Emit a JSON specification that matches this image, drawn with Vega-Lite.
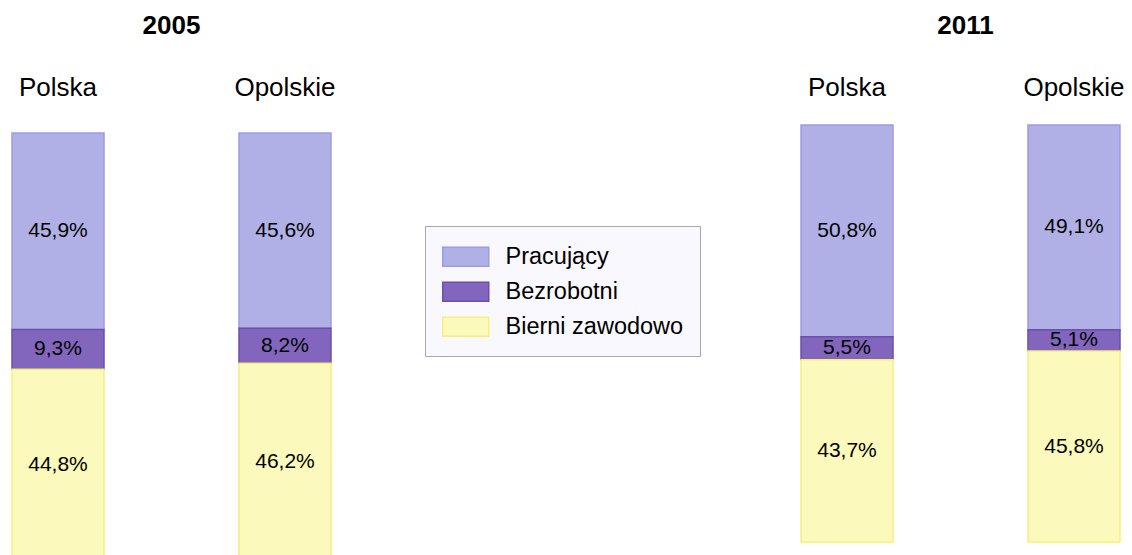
{
  "$schema": "https://vega.github.io/schema/vega-lite/v6.json",
  "padding": {"left": 0, "top": 13, "right": 0, "bottom": 0},
  "background": "white",
  "data": {
    "values": [
      {"year": 2005, "region": "Polska", "category": "Pracujący", "value": 0.459, "order": 3},
      {"year": 2005, "region": "Polska", "category": "Bezrobotni", "value": 0.093, "order": 2},
      {"year": 2005, "region": "Polska", "category": "Bierni zawodowo", "value": 0.448, "order": 1},
      {"year": 2005, "region": "Opolskie", "category": "Pracujący", "value": 0.456, "order": 3},
      {"year": 2005, "region": "Opolskie", "category": "Bezrobotni", "value": 0.082, "order": 2},
      {"year": 2005, "region": "Opolskie", "category": "Bierni zawodowo", "value": 0.462, "order": 1},
      {"year": 2011, "region": "Polska", "category": "Pracujący", "value": 0.508, "order": 3},
      {"year": 2011, "region": "Polska", "category": "Bezrobotni", "value": 0.055, "order": 2},
      {"year": 2011, "region": "Polska", "category": "Bierni zawodowo", "value": 0.437, "order": 1},
      {"year": 2011, "region": "Opolskie", "category": "Pracujący", "value": 0.491, "order": 3},
      {"year": 2011, "region": "Opolskie", "category": "Bezrobotni", "value": 0.051, "order": 2},
      {"year": 2011, "region": "Opolskie", "category": "Bierni zawodowo", "value": 0.458, "order": 1}
    ]
  },
  "spacing": 446,
  "hconcat": [
    {
      "title": {"text": "2005", "fontSize": 26, "fontWeight": "bold", "font": "Liberation Sans", "color": "#000000", "offset": 35},
      "width": 343,
      "height": 436,
      "transform": [{"filter": "datum.year == 2005"}],
      "encoding": {
        "x": {"field": "region", "type": "nominal", "sort": ["Polska", "Opolskie"],
              "scale": {"paddingInner": 0.5947, "paddingOuter": 0.0529},
              "axis": {"orient": "top", "title": null, "labelAngle": 0, "domain": false, "ticks": false, "tickSize": 0, "labelPadding": 25, "labelFontSize": 26, "labelFont": "Liberation Sans", "labelColor": "#000000"}}
      },
      "layer": [
        {
          "mark": {"type": "bar", "strokeWidth": 1.5},
          "encoding": {
            "y": {"field": "value", "type": "quantitative", "stack": "zero", "scale": {"domain": [0, 1.01869], "nice": false}, "axis": null},
            "order": {"field": "order", "type": "quantitative"},
            "fill": {"field": "category", "type": "nominal",
                     "scale": {"domain": ["Pracujący", "Bezrobotni", "Bierni zawodowo"], "range": ["#b0b0e6", "#8266bd", "#fbf9bb"]},
                     "legend": {"orient": "none", "legendX": 425, "legendY": 101, "title": null, "fillColor": "#f8f8fe", "strokeColor": "#a8a8a8", "padding": 16, "symbolType": "M-1.05,-0.684L3.79,-0.684L3.79,1.316L-1.05,1.316Z", "symbolSize": 361, "symbolStrokeWidth": 1.5, "labelFontSize": 23.5, "labelFont": "Liberation Sans", "labelColor": "#000000", "labelOffset": 41, "rowPadding": 7, "labelLimit": 400, "encode": {"labels": {"update": {"dy": {"value": 3}}}}}},
            "stroke": {"field": "category", "type": "nominal",
                     "scale": {"domain": ["Pracujący", "Bezrobotni", "Bierni zawodowo"], "range": ["#9c9ce4", "#6b4fae", "#f5ef7e"]},
                     "legend": {"orient": "none", "legendX": 425, "legendY": 101, "title": null, "fillColor": "#f8f8fe", "strokeColor": "#a8a8a8", "padding": 16, "symbolType": "M-1.05,-0.684L3.79,-0.684L3.79,1.316L-1.05,1.316Z", "symbolSize": 361, "symbolStrokeWidth": 1.5, "labelFontSize": 23.5, "labelFont": "Liberation Sans", "labelColor": "#000000", "labelOffset": 41, "rowPadding": 7, "labelLimit": 400, "encode": {"labels": {"update": {"dy": {"value": 3}}}}}}
          }
        },
        {
          "mark": {"type": "text", "fontSize": 21, "font": "Liberation Sans", "color": "#000000", "baseline": "middle"},
          "encoding": {
            "y": {"field": "value", "type": "quantitative", "stack": "zero", "bandPosition": 0.5},
            "order": {"field": "order", "type": "quantitative"},
            "text": {"field": "value", "type": "quantitative", "format": ".1%"}
          }
        }
      ]
    },
    {
      "title": {"text": "2011", "fontSize": 26, "fontWeight": "bold", "font": "Liberation Sans", "color": "#000000", "offset": 35, "dx": 5},
      "width": 343,
      "height": 417,
      "transform": [{"filter": "datum.year == 2011"}],
      "encoding": {
        "x": {"field": "region", "type": "nominal", "sort": ["Polska", "Opolskie"],
              "scale": {"paddingInner": 0.5947, "paddingOuter": 0.0529},
              "axis": {"orient": "top", "title": null, "labelAngle": 0, "domain": false, "ticks": false, "tickSize": 0, "labelPadding": 25, "labelFontSize": 26, "labelFont": "Liberation Sans", "labelColor": "#000000"}}
      },
      "layer": [
        {
          "mark": {"type": "bar", "strokeWidth": 1.5},
          "encoding": {
            "y": {"field": "value", "type": "quantitative", "stack": "zero", "scale": {"domain": [0, 1], "nice": false}, "axis": null},
            "order": {"field": "order", "type": "quantitative"},
            "fill": {"field": "category", "type": "nominal",
                     "scale": {"domain": ["Pracujący", "Bezrobotni", "Bierni zawodowo"], "range": ["#b0b0e6", "#8266bd", "#fbf9bb"]},
                     "legend": {"orient": "none", "legendX": 425, "legendY": 101, "title": null, "fillColor": "#f8f8fe", "strokeColor": "#a8a8a8", "padding": 16, "symbolType": "M-1.05,-0.684L3.79,-0.684L3.79,1.316L-1.05,1.316Z", "symbolSize": 361, "symbolStrokeWidth": 1.5, "labelFontSize": 23.5, "labelFont": "Liberation Sans", "labelColor": "#000000", "labelOffset": 41, "rowPadding": 7, "labelLimit": 400, "encode": {"labels": {"update": {"dy": {"value": 3}}}}}},
            "stroke": {"field": "category", "type": "nominal",
                     "scale": {"domain": ["Pracujący", "Bezrobotni", "Bierni zawodowo"], "range": ["#9c9ce4", "#6b4fae", "#f5ef7e"]},
                     "legend": {"orient": "none", "legendX": 425, "legendY": 101, "title": null, "fillColor": "#f8f8fe", "strokeColor": "#a8a8a8", "padding": 16, "symbolType": "M-1.05,-0.684L3.79,-0.684L3.79,1.316L-1.05,1.316Z", "symbolSize": 361, "symbolStrokeWidth": 1.5, "labelFontSize": 23.5, "labelFont": "Liberation Sans", "labelColor": "#000000", "labelOffset": 41, "rowPadding": 7, "labelLimit": 400, "encode": {"labels": {"update": {"dy": {"value": 3}}}}}}
          }
        },
        {
          "mark": {"type": "text", "fontSize": 21, "font": "Liberation Sans", "color": "#000000", "baseline": "middle"},
          "encoding": {
            "y": {"field": "value", "type": "quantitative", "stack": "zero", "bandPosition": 0.5},
            "order": {"field": "order", "type": "quantitative"},
            "text": {"field": "value", "type": "quantitative", "format": ".1%"}
          }
        }
      ]
    }
  ],
  "resolve": {"scale": {"y": "independent"}},
  "config": {
    "view": {"stroke": null},
    "locale": {"number": {"decimal": ",", "thousands": " ", "grouping": [3], "currency": ["", " zł"]}}
  }
}
